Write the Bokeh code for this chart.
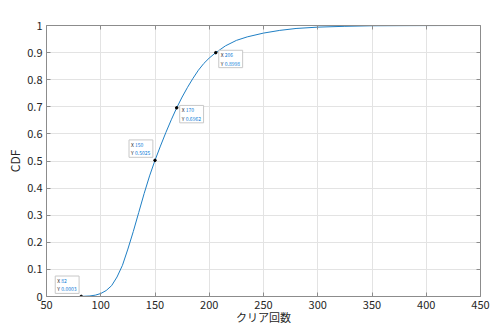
from bokeh.plotting import figure
from bokeh.models import Label, LinearAxis, Range1d
from bokeh.embed import file_html
from bokeh.resources import INLINE

# ---- data ----
clears = [82, 90, 95, 100, 105, 110, 115, 120, 125, 130, 135, 140, 145, 150,
          155, 160, 165, 170, 175, 180, 185, 190, 195, 200, 206, 215, 225, 235,
          250, 265, 280, 300, 325, 350, 380, 410, 438]
cdf = [0.0003, 0.002, 0.005, 0.011, 0.022, 0.040, 0.072, 0.115, 0.175, 0.24,
       0.31, 0.38, 0.445, 0.5025, 0.555, 0.605, 0.652, 0.6962, 0.736, 0.772,
       0.805, 0.835, 0.86, 0.88, 0.8998, 0.925, 0.945, 0.958, 0.972, 0.982,
       0.989, 0.994, 0.997, 0.999, 0.9995, 0.9998, 1.0]

tip_x = [82, 150, 170, 206]
tip_y = [0.0003, 0.5025, 0.6962, 0.8998]
tip_x_text = ["82", "150", "170", "206"]
tip_y_text = ["0.0003", "0.5025", "0.6962", "0.8998"]
tip_side = ["upper-left", "upper-left", "lower-right", "lower-right"]

x_ticks = [50, 100, 150, 200, 250, 300, 350, 400, 450]
y_ticks = [0, 0.1, 0.2, 0.3, 0.4, 0.5, 0.6, 0.7, 0.8, 0.9, 1]
y_tick_labels = ["0", "0.1", "0.2", "0.3", "0.4", "0.5", "0.6", "0.7", "0.8", "0.9", "1"]

x_label = "クリア回数"
y_label = "CDF"

FONT = "Noto Sans CJK JP"
AXIS_COLOR = "#8c8c8c"
TEXT_COLOR = "#262626"
LINE_COLOR = "#1f7fc4"

p = figure(width=500, height=333, output_backend="svg", toolbar_location=None,
           x_range=Range1d(50, 450), y_range=Range1d(0, 1),
           min_border_left=46, min_border_right=20, min_border_top=25,
           min_border_bottom=37)
p.background_fill_color = "white"
p.border_fill_color = "white"
p.outline_line_color = None

p.line(clears, cdf, line_color=LINE_COLOR, line_width=1)
p.scatter(tip_x, tip_y, size=2.5, color="black")

# main axes
for ax in (p.xaxis[0], p.yaxis[0]):
    ax.axis_line_color = AXIS_COLOR
    ax.major_tick_line_color = AXIS_COLOR
    ax.major_tick_in = 4
    ax.major_tick_out = 0
    ax.minor_tick_line_color = None
    ax.major_label_text_font = FONT
    ax.major_label_text_font_size = "11px"
    ax.major_label_text_color = TEXT_COLOR
    ax.axis_label_text_font = FONT
    ax.axis_label_text_font_size = "11px"
    ax.axis_label_text_font_style = "normal"
    ax.axis_label_text_color = TEXT_COLOR

p.xaxis[0].ticker = x_ticks
p.yaxis[0].ticker = y_ticks
p.yaxis[0].major_label_overrides = {t: s for t, s in zip(y_ticks, y_tick_labels)}
p.xaxis[0].axis_label = x_label
p.yaxis[0].axis_label = y_label
p.yaxis[0].axis_label_text_font_size = "12px"
p.xaxis[0].major_label_standoff = 4
p.xaxis[0].axis_label_standoff = -3
p.yaxis[0].major_label_standoff = 4
p.yaxis[0].axis_label_standoff = 1

# mirrored box axes (top / right)
for loc, ticks in (("above", x_ticks), ("right", y_ticks)):
    ax = LinearAxis(ticker=ticks)
    ax.axis_line_color = AXIS_COLOR
    ax.major_tick_line_color = AXIS_COLOR
    ax.major_tick_in = 4
    ax.major_tick_out = 0
    ax.minor_tick_line_color = None
    ax.major_label_text_font_size = "0px"
    ax.major_label_text_color = None
    p.add_layout(ax, loc)

p.xgrid.grid_line_color = "#e3e3e3"
p.ygrid.grid_line_color = "#e3e3e3"

# data tips
TIP_FONT = "5px"
PAD = dict(left=2, right=19, top=1, bottom=1)
for xv, yv, xs, ys, side in zip(tip_x, tip_y, tip_x_text, tip_y_text, tip_side):
    if side == "upper-left":
        dx, dy = -26, 3
    else:
        dx, dy = 3, -15
    box = Label(x=xv, y=yv, x_offset=dx, y_offset=dy, text="X\nY",
                text_font=FONT, text_font_size=TIP_FONT, text_color=TEXT_COLOR,
                text_align="left", text_baseline="bottom",
                background_fill_color="white", border_line_color="#c8c8c8",
                border_line_width=1, padding=PAD)
    vals = Label(x=xv, y=yv, x_offset=dx + 4, y_offset=dy, text=xs + "\n" + ys,
                 text_font=FONT, text_font_size=TIP_FONT, text_color="#0a7bd8",
                 text_align="left", text_baseline="bottom",
                 padding=dict(left=2, right=0, top=1, bottom=1))
    p.add_layout(box)
    p.add_layout(vals)

open("out.html", "w").write(file_html(p, INLINE))
